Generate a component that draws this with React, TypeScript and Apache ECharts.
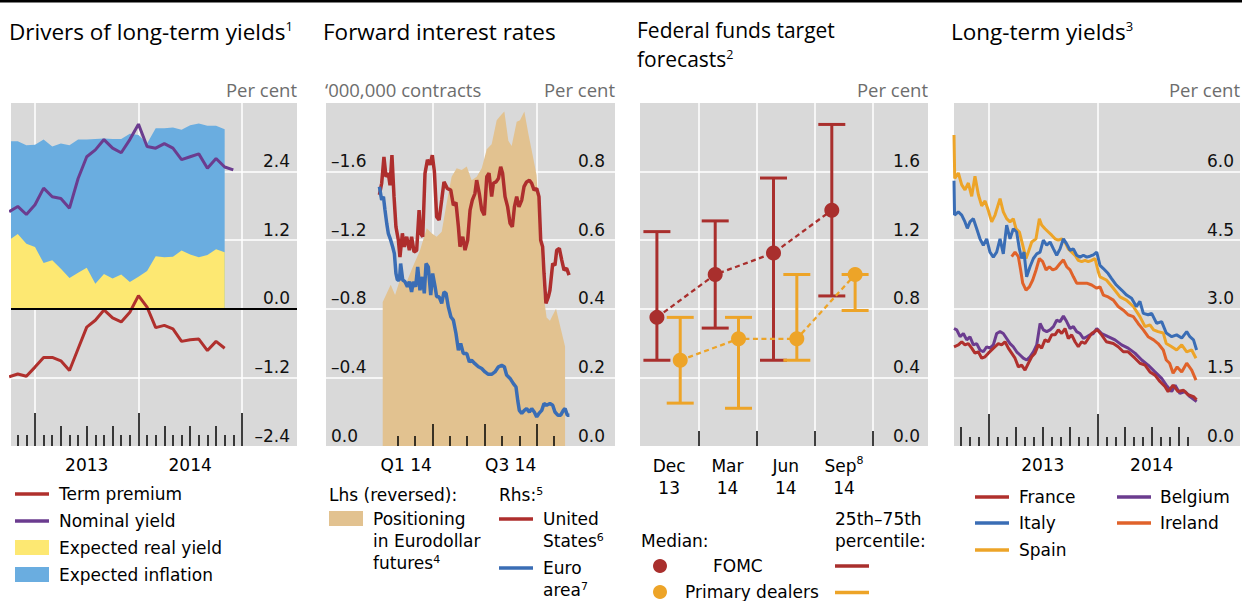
import React, { useEffect, useRef } from 'react';
import * as echarts from 'echarts';

// ---------- Panel 1: Drivers of long-term yields (months, Jan 2013 = 0) ----------
const p1Months = [-3, -2, -1, 0, 1, 2, 3, 4, 5, 6, 7, 8, 9, 10, 11, 12, 13, 14, 15, 16, 17, 18, 19, 20, 21, 22, 23];
const nominalYield = [1.70, 1.79, 1.65, 1.82, 2.11, 1.96, 1.93, 1.76, 2.28, 2.66, 2.78, 2.96, 2.81, 2.73, 2.96, 3.23, 2.84, 2.81, 2.89, 2.81, 2.61, 2.66, 2.71, 2.46, 2.63, 2.48, 2.43];
const termPremium = [-1.19, -1.14, -1.18, -1.02, -0.85, -0.85, -0.91, -1.08, -0.70, -0.32, -0.20, -0.02, -0.16, -0.23, -0.06, 0.23, 0.03, -0.33, -0.29, -0.35, -0.57, -0.54, -0.53, -0.73, -0.57, -0.69];
const expectedReal = [1.20, 1.31, 1.14, 1.08, 0.80, 0.85, 0.70, 0.54, 0.63, 0.72, 0.44, 0.61, 0.53, 0.60, 0.47, 0.56, 0.66, 0.92, 0.90, 0.91, 1.02, 0.95, 0.90, 0.94, 1.04, 0.99];
const expectedInflation = [1.73, 1.62, 1.72, 1.79, 2.16, 1.99, 2.19, 2.32, 2.33, 2.24, 2.53, 2.37, 2.44, 2.37, 2.59, 2.48, 2.23, 2.24, 2.26, 2.26, 2.11, 2.26, 2.34, 2.26, 2.16, 2.15];
const yearLabels = ['2013', '2014'];
const yearLabelPos = [6, 18];

// ---------- Panel 2: Forward interest rates (months, Jan 2014 = 0) ----------
const eurodollarPositioning = [
  [0.15, -0.84], [0.61, -0.94], [0.86, -0.88], [1.14, -0.97], [1.5, -0.95], [1.9, -1.05], [2.29, -1.14], [2.68, -1.27],
  [2.96, -1.24], [3.25, -1.22], [3.54, -1.25], [3.83, -1.42], [4.11, -1.57], [4.40, -1.62], [4.69, -1.61], [4.98, -1.63],
  [5.26, -1.55], [5.55, -1.57], [5.84, -1.62], [6.13, -1.73], [6.41, -1.76], [6.70, -1.90], [6.95, -1.93], [7.14, -1.95],
  [7.37, -1.78], [7.56, -1.75], [7.85, -1.89], [8.04, -1.90], [8.29, -1.95], [8.52, -1.82], [8.80, -1.68], [8.99, -1.58],
  [9.19, -1.25], [9.38, -0.89], [9.57, -0.75], [9.76, -0.73], [10.11, -0.80], [10.44, -0.66], [10.63, -0.58],
];
const usForward = [
  [-0.04, 0.732], [0.09, 0.766], [0.22, 0.843], [0.34, 0.785], [0.47, 0.795], [0.57, 0.76], [0.68, 0.848], [0.80, 0.727],
  [0.91, 0.639], [1.05, 0.60], [1.14, 0.551], [1.28, 0.62], [1.39, 0.581], [1.53, 0.61], [1.68, 0.571], [1.81, 0.61],
  [1.95, 0.566], [2.10, 0.57], [2.24, 0.688], [2.33, 0.62], [2.45, 0.61], [2.58, 0.795], [2.72, 0.834], [2.87, 0.82],
  [3.00, 0.848], [3.12, 0.80], [3.25, 0.668], [3.39, 0.659], [3.54, 0.717], [3.67, 0.77], [3.86, 0.751], [4.06, 0.746],
  [4.21, 0.702], [4.36, 0.71], [4.50, 0.639], [4.59, 0.581], [4.75, 0.61], [4.88, 0.571], [5.03, 0.60], [5.17, 0.688],
  [5.30, 0.717], [5.45, 0.736], [5.55, 0.775], [5.70, 0.736], [5.84, 0.688], [5.99, 0.673], [6.13, 0.785], [6.26, 0.795],
  [6.41, 0.727], [6.51, 0.766], [6.66, 0.770], [6.80, 0.78], [6.93, 0.814], [7.04, 0.795], [7.18, 0.727], [7.33, 0.697],
  [7.47, 0.649], [7.60, 0.639], [7.72, 0.697], [7.85, 0.727], [7.98, 0.697], [8.14, 0.717], [8.27, 0.756], [8.42, 0.770],
  [8.58, 0.775], [8.71, 0.766], [8.85, 0.746], [9.00, 0.751], [9.13, 0.727], [9.23, 0.60], [9.34, 0.581], [9.42, 0.503],
  [9.53, 0.416], [9.67, 0.435], [9.76, 0.454], [9.92, 0.532], [10.05, 0.527], [10.15, 0.571], [10.30, 0.576], [10.44, 0.542],
  [10.57, 0.513], [10.72, 0.518], [10.86, 0.498],
];
const euroForward = [
  [-0.04, 0.756], [0.09, 0.717], [0.19, 0.727], [0.28, 0.688], [0.38, 0.649], [0.47, 0.62], [0.61, 0.60], [0.72, 0.581],
  [0.82, 0.561], [0.91, 0.503], [0.99, 0.484], [1.11, 0.484], [1.18, 0.532], [1.30, 0.484], [1.43, 0.479], [1.57, 0.464],
  [1.68, 0.479], [1.81, 0.449], [1.91, 0.479], [2.04, 0.464], [2.16, 0.522], [2.29, 0.454], [2.43, 0.493], [2.54, 0.445],
  [2.64, 0.532], [2.77, 0.522], [2.91, 0.44], [3.02, 0.503], [3.16, 0.464], [3.25, 0.435], [3.39, 0.435], [3.54, 0.416],
  [3.67, 0.449], [3.79, 0.445], [3.92, 0.406], [4.07, 0.376], [4.21, 0.367], [4.36, 0.328], [4.50, 0.279], [4.63, 0.299],
  [4.78, 0.27], [4.98, 0.27], [5.13, 0.245], [5.26, 0.25], [5.45, 0.24], [5.65, 0.231], [5.84, 0.226], [6.03, 0.216],
  [6.22, 0.209], [6.41, 0.209], [6.60, 0.216], [6.80, 0.231], [6.99, 0.235], [7.14, 0.231], [7.27, 0.207], [7.47, 0.197],
  [7.66, 0.182], [7.81, 0.172], [7.91, 0.133], [8.00, 0.104], [8.14, 0.095], [8.29, 0.104], [8.42, 0.109], [8.58, 0.099],
  [8.71, 0.109], [8.86, 0.099], [9.00, 0.085], [9.13, 0.095], [9.29, 0.104], [9.42, 0.124], [9.57, 0.119], [9.76, 0.124],
  [9.92, 0.119], [10.05, 0.099], [10.21, 0.09], [10.38, 0.09], [10.53, 0.104], [10.63, 0.109], [10.76, 0.09], [10.88, 0.09],
];
const quarterLabels = ['Q1 14', 'Q3 14'];
const quarterLabelPos = [1.5, 7.5];

// ---------- Panel 3: Federal funds target forecasts ----------
const fedDates = ['Dec|13', 'Mar|14', 'Jun|14', 'Sep|14'];
const fomcMedian = [0.75, 1.0, 1.125, 1.375];
const fomcLow = [0.5, 0.6875, 0.5, 0.875];
const fomcHigh = [1.25, 1.3125, 1.5625, 1.875];
const dealersMedian = [0.5, 0.625, 0.625, 1.0];
const dealersLow = [0.25, 0.22, 0.5, 0.79];
const dealersHigh = [0.75, 0.75, 1.0, 1.0];

// ---------- Panel 4: Long-term yields (months, Jan 2013 = 0) ----------
const france = [
  [-3.78, 2.17], [-3.30, 2.21], [-2.93, 2.28], [-2.57, 2.21], [-2.20, 2.24], [-1.83, 2.14], [-1.47, 2.03], [-1.10, 2.06],
  [-0.73, 1.92], [-0.36, 1.95], [0.0, 2.03], [0.37, 2.10], [0.74, 2.17], [1.10, 2.24], [1.47, 2.21], [1.84, 2.28],
  [2.20, 2.14], [2.57, 2.03], [2.94, 1.92], [3.31, 1.73], [3.67, 1.77], [4.04, 1.66], [4.41, 1.81], [4.78, 1.95],
  [5.14, 2.03], [5.51, 2.21], [5.87, 2.14], [6.24, 2.32], [6.61, 2.28], [6.98, 2.43], [7.35, 2.43], [7.71, 2.54],
  [8.08, 2.46], [8.45, 2.57], [8.81, 2.35], [9.18, 2.43], [9.55, 2.28], [9.91, 2.17], [10.28, 2.28], [10.65, 2.24],
  [11.01, 2.35], [11.38, 2.46], [12.0, 2.54], [12.48, 2.43], [13.0, 2.28], [13.77, 2.24], [14.3, 2.17], [14.87, 2.06],
  [15.4, 2.06], [16.15, 1.92], [16.7, 1.81], [17.26, 1.77], [17.8, 1.62], [18.35, 1.55], [18.9, 1.41], [19.45, 1.30],
  [19.8, 1.19], [20.35, 1.33], [20.9, 1.19], [21.5, 1.22], [22.0, 1.12], [22.6, 1.08], [22.94, 1.01],
];
const italy = [
  [-3.78, 5.80], [-3.72, 5.05], [-3.30, 5.12], [-2.93, 5.05], [-2.57, 4.90], [-2.31, 4.76], [-2.02, 4.90], [-1.65, 4.97],
  [-1.28, 4.75], [-0.92, 4.53], [-0.55, 4.39], [-0.18, 4.53], [0.18, 4.24], [0.55, 4.13], [0.92, 4.24], [1.29, 4.53],
  [1.65, 4.20], [2.02, 4.83], [2.39, 4.53], [2.75, 4.75], [3.12, 4.68], [3.42, 4.31], [3.67, 4.10], [3.93, 4.24],
  [4.22, 3.70], [4.59, 3.92], [4.96, 4.10], [5.33, 4.20], [5.70, 4.24], [6.06, 4.50], [6.43, 4.39], [6.80, 4.46],
  [7.17, 4.31], [7.53, 4.17], [7.90, 4.31], [8.27, 4.53], [8.63, 4.42], [9.00, 4.28], [9.37, 4.31], [9.73, 4.17],
  [10.10, 4.13], [10.47, 4.17], [10.84, 4.13], [11.20, 4.15], [11.57, 4.18], [11.94, 4.24], [12.3, 3.95], [12.67, 3.88],
  [13.2, 3.77], [13.58, 3.66], [14.1, 3.52], [14.68, 3.41], [15.23, 3.30], [15.78, 3.23], [16.3, 3.05], [16.7, 3.16],
  [17.07, 2.90], [17.6, 2.87], [17.99, 2.90], [18.54, 2.68], [19.09, 2.72], [19.6, 2.47], [20.2, 2.39], [20.74, 2.43],
  [21.3, 2.36], [21.85, 2.50], [22.2, 2.39], [22.6, 2.32], [22.94, 2.10],
];
const spain = [
  [-3.78, 6.80], [-3.70, 5.85], [-3.30, 5.97], [-2.93, 5.71], [-2.57, 5.60], [-2.20, 5.75], [-1.83, 5.46], [-1.47, 5.90],
  [-1.10, 5.50], [-0.73, 5.25], [-0.36, 5.36], [0.0, 5.15], [0.37, 4.90], [0.74, 5.05], [1.29, 5.41], [1.65, 5.12],
  [2.02, 4.97], [2.39, 4.90], [2.75, 4.97], [3.05, 4.75], [3.42, 4.68], [3.79, 4.39], [4.15, 4.10], [4.41, 4.24],
  [4.78, 4.46], [5.25, 4.53], [5.62, 4.97], [5.87, 4.83], [6.24, 4.75], [6.61, 4.68], [6.98, 4.61], [7.35, 4.53],
  [7.71, 4.50], [8.08, 4.53], [8.45, 4.46], [8.81, 4.31], [9.18, 4.24], [9.55, 4.17], [9.91, 4.06], [10.28, 4.03],
  [10.65, 4.06], [11.01, 4.03], [11.38, 4.06], [11.75, 4.10], [12.11, 3.81], [12.3, 3.70], [13.0, 3.63], [13.77, 3.45],
  [14.5, 3.26], [15.2, 3.19], [15.97, 3.05], [16.7, 2.83], [17.26, 2.61], [17.8, 2.65], [18.2, 2.54], [18.7, 2.50],
  [19.27, 2.47], [19.6, 2.24], [20.2, 2.17], [20.74, 2.10], [21.3, 2.21], [21.85, 2.06], [22.4, 2.10], [22.87, 1.92],
];
const belgium = [
  [-3.78, 2.57], [-3.48, 2.54], [-3.11, 2.39], [-2.75, 2.46], [-2.38, 2.32], [-2.02, 2.39], [-1.65, 2.21], [-1.28, 2.24],
  [-0.92, 2.10], [-0.55, 2.06], [-0.18, 2.17], [0.18, 2.14], [0.55, 2.21], [0.92, 2.46], [1.29, 2.50], [1.65, 2.46],
  [2.02, 2.35], [2.39, 2.24], [2.75, 2.17], [3.12, 2.06], [3.49, 1.99], [3.85, 1.92], [4.22, 1.88], [4.59, 1.95],
  [4.96, 2.06], [5.33, 2.21], [5.70, 2.68], [6.06, 2.54], [6.43, 2.50], [6.80, 2.54], [7.17, 2.61], [7.53, 2.75],
  [7.90, 2.72], [8.27, 2.84], [8.63, 2.72], [9.00, 2.57], [9.37, 2.61], [9.73, 2.50], [10.10, 2.46], [10.47, 2.35],
  [10.84, 2.39], [11.20, 2.43], [11.57, 2.46], [11.94, 2.57], [12.48, 2.46], [13.2, 2.39], [13.95, 2.32], [14.68, 2.21],
  [15.4, 2.14], [16.15, 2.03], [16.9, 1.88], [17.6, 1.77], [18.35, 1.62], [19.09, 1.48], [19.6, 1.33], [20.2, 1.19],
  [20.57, 1.33], [21.1, 1.15], [21.67, 1.19], [22.2, 1.08], [22.94, 0.97],
];
const ireland = [
  [2.57, 4.14], [2.94, 4.24], [3.31, 4.14], [3.56, 3.85], [3.79, 3.56], [4.15, 3.41], [4.52, 3.48], [4.89, 3.63],
  [5.26, 3.85], [5.62, 4.10], [5.99, 4.03], [6.36, 3.85], [6.72, 3.92], [7.09, 3.85], [7.46, 3.88], [7.90, 3.99],
  [8.27, 4.07], [8.63, 3.92], [9.00, 3.85], [9.37, 3.70], [9.73, 3.56], [10.28, 3.56], [10.84, 3.56], [11.38, 3.52],
  [11.94, 3.45], [12.3, 3.48], [12.67, 3.30], [13.2, 3.26], [13.77, 3.19], [14.3, 3.05], [14.87, 2.97], [15.4, 2.87],
  [15.97, 2.83], [16.5, 2.68], [17.07, 2.54], [17.6, 2.39], [18.2, 2.32], [18.7, 2.24], [19.27, 2.10], [19.6, 1.88],
  [19.97, 1.81], [20.35, 1.59], [20.8, 1.73], [21.3, 1.62], [21.85, 1.81], [22.4, 1.66], [22.87, 1.44],
];

// ---------- styling ----------
const FONT = 'DejaVu Sans';
const TFONT = 'Open Sans';
const BG = '#D9D9D9';
const RED = '#B0302D';
const PURPLE = '#6B3C8F';
const YELLOW = '#FDE872';
const LBLUE = '#6AADE0';
const TAN = '#E2C290';
const BLUE = '#3A6DB5';
const ORANGE = '#EDA428';
const IRL = '#E0622A';
const FED_RED = '#A92F2D';

const fmtNum = (v: number) => (v < -1e-9 ? '\u2013' : '') + Math.abs(v).toFixed(1);

function labelFor(vals: number[], labels: string[]) {
  return (v: number) => {
    const i = vals.findIndex((p) => Math.abs(p - v) < 1e-6);
    return i >= 0 ? labels[i] : '';
  };
}

function baseX(gridIndex: number, min: number, max: number, splitVals: number[], labelVals: number[], fmt: any) {
  return {
    type: 'value', gridIndex, min, max, position: 'bottom', z: 0,
    axisLine: { show: false },
    axisTick: { show: false, customValues: splitVals },
    splitLine: { show: true, lineStyle: { color: '#fff', width: 1.5 } },
    axisLabel: {
      show: true, customValues: labelVals, margin: 10, color: '#000', fontFamily: FONT, fontSize: 17,
      formatter: fmt,
    },
  };
}
function tickX(gridIndex: number, min: number, max: number, vals: number[], length: number) {
  return {
    type: 'value', gridIndex, min, max, position: 'bottom', z: 5,
    axisLine: { show: false }, splitLine: { show: false }, axisLabel: { show: false },
    axisTick: { show: true, inside: true, length, customValues: vals, lineStyle: { color: '#000', width: 1.5 } },
  };
}
function valY(gridIndex: number, position: string, min: number, max: number, interval: number, margin: number) {
  return {
    type: 'value', gridIndex, position, min, max, interval,
    axisLine: { show: false }, axisTick: { show: false },
    splitLine: { show: true, showMinLine: false, showMaxLine: false, lineStyle: { color: '#fff', width: 1.5 } },
    axisLabel: {
      inside: true, margin, verticalAlign: 'bottom', showMaxLabel: false, color: '#111',
      fontFamily: FONT, fontSize: 17, formatter: fmtNum, padding: [0, 0, 2, 0],
    },
  };
}

const p1Minor = [-2, -1, 1, 2, 4, 5, 7, 8, 10, 11, 13, 14, 16, 17, 19, 20, 22, 23];
const p1Quarter = [3, 6, 9, 15, 18, 21];
const p1Year = [0, 12, 24];
const p2Minor = [1, 2, 4, 5, 7, 8, 10];
const p2Quarter = [3, 6, 9];
const p4Minor = [-2, -1, 1, 2, 4, 5, 7, 8, 10, 11, 13, 14, 16, 17, 19, 20, 22];
const p4Quarter = [-3, 3, 6, 9, 15, 18, 21];
const p4Year = [0, 12];

function buildOption() {
  const P1MIN = -2.784, P1MAX = 30.39;
  const P2MIN = -3.11, P2MAX = 13.5;
  const P3MIN = 0, P3MAX = 4.94;
  const P4MIN = -3.78, P4MAX = 27.72;

  const xAxis: any[] = [
    baseX(0, P1MIN, P1MAX, p1Year, yearLabelPos, labelFor(yearLabelPos, yearLabels)),
    tickX(0, P1MIN, P1MAX, p1Minor, 11),
    tickX(0, P1MIN, P1MAX, p1Quarter, 20),
    tickX(0, P1MIN, P1MAX, p1Year, 33),
    baseX(1, P2MIN, P2MAX, p2Quarter, quarterLabelPos, labelFor(quarterLabelPos, quarterLabels)),
    tickX(1, P2MIN, P2MAX, p2Minor, 10),
    tickX(1, P2MIN, P2MAX, p2Quarter, 22),
    {
      type: 'value', gridIndex: 2, min: P3MIN, max: P3MAX, position: 'bottom', z: 0,
      axisLine: { show: false },
      axisTick: { show: true, inside: true, length: 15, customValues: [1, 2, 3, 4], lineStyle: { color: '#000', width: 1.5 } },
      splitLine: { show: true, lineStyle: { color: '#fff', width: 1.5 } },
      axisLabel: {
        show: true, customValues: [0.5, 1.5, 2.5, 3.5], margin: 9, color: '#000', lineHeight: 22,
        formatter: (v: number) => {
          const d = fedDates[Math.floor(v)] || '';
          const [a, b] = d.split('|');
          return a === 'Sep' ? `{a|${a}}{s|8}\n{a|${b}}` : `{a|${a}}\n{a|${b}}`;
        },
        rich: {
          a: { fontFamily: FONT, fontSize: 17, lineHeight: 22, color: '#000' },
          s: { fontFamily: FONT, fontSize: 11, lineHeight: 11, verticalAlign: 'top', color: '#000' },
        },
      },
    },
    baseX(3, P4MIN, P4MAX, p4Year, yearLabelPos, labelFor(yearLabelPos, yearLabels)),
    tickX(3, P4MIN, P4MAX, p4Minor, 9),
    tickX(3, P4MIN, P4MAX, p4Quarter, 19),
    tickX(3, P4MIN, P4MAX, p4Year, 32),
  ];

  const yAxis: any[] = [
    valY(0, 'right', -2.4, 3.6, 1.2, 7),
    {
      type: 'value', gridIndex: 1, position: 'left', min: -2.0, max: 0, interval: 0.4, inverse: true,
      axisLine: { show: false }, axisTick: { show: false }, splitLine: { show: false },
      axisLabel: {
        inside: true, margin: 5, verticalAlign: 'bottom', showMinLabel: false, color: '#111',
        fontFamily: FONT, fontSize: 17, formatter: fmtNum, padding: [0, 0, 2, 0],
      },
    },
    valY(1, 'right', 0, 1.0, 0.2, 10),
    valY(2, 'right', 0, 2.0, 0.4, 8),
    valY(3, 'right', 0, 7.5, 1.5, 6),
  ];

  const line = (name: string, x: number, y: number, data: any[], color: string, width = 3) => ({
    name, type: 'line', xAxisIndex: x, yAxisIndex: y, data, showSymbol: false, symbol: 'none',
    lineStyle: { color, width }, itemStyle: { color }, z: 3,
  });

  const errorBars = (name: string, xs: number[], lo: number[], hi: number[], color: string) => ({
    name, type: 'custom', xAxisIndex: 7, yAxisIndex: 3, z: 3,
    encode: { x: 0, y: [1, 2] },
    data: xs.map((x, i) => [x, lo[i], hi[i]]),
    renderItem: (params: any, api: any) => {
      const x = api.value(0);
      const pLo = api.coord([x, api.value(1)]);
      const pHi = api.coord([x, api.value(2)]);
      const half = 13.5;
      const st = { stroke: color, lineWidth: 3 };
      return {
        type: 'group',
        children: [
          { type: 'line', shape: { x1: pLo[0], y1: pLo[1], x2: pHi[0], y2: pHi[1] }, style: st },
          { type: 'line', shape: { x1: pLo[0] - half, y1: pLo[1], x2: pLo[0] + half, y2: pLo[1] }, style: st },
          { type: 'line', shape: { x1: pHi[0] - half, y1: pHi[1], x2: pHi[0] + half, y2: pHi[1] }, style: st },
        ],
      };
    },
  });

  const fomcX = fomcMedian.map((_, i) => i + 0.29);
  const dealersX = dealersMedian.map((_, i) => i + 0.69);
  // stacked area: top of the expected-inflation band sits on the expected real yield
  const inflationTop = expectedInflation.map((v, i) => [p1Months[i], expectedReal[i] + v]);

  const series: any[] = [
    // Panel 1
    {
      name: 'Expected inflation', type: 'line', xAxisIndex: 0, yAxisIndex: 0, symbol: 'none',
      data: inflationTop, lineStyle: { width: 0 }, areaStyle: { color: LBLUE, opacity: 1 }, z: 2,
    },
    {
      name: 'Expected real yield', type: 'line', xAxisIndex: 0, yAxisIndex: 0, symbol: 'none',
      data: expectedReal.map((v, i) => [p1Months[i], v]),
      lineStyle: { width: 0 }, areaStyle: { color: YELLOW, opacity: 1 }, z: 2,
      markLine: {
        silent: true, symbol: ['none', 'none'], label: { show: false },
        lineStyle: { color: '#000', width: 2, type: 'solid' }, data: [{ yAxis: 0 }],
      },
    },
    line('Term premium', 0, 0, termPremium.map((v, i) => [p1Months[i], v]), RED, 3),
    line('Nominal yield', 0, 0, nominalYield.map((v, i) => [p1Months[i], v]), PURPLE, 3),
    // Panel 2
    {
      name: 'Positioning in Eurodollar futures', type: 'line', xAxisIndex: 4, yAxisIndex: 1, symbol: 'none',
      data: eurodollarPositioning, lineStyle: { width: 0 }, areaStyle: { color: TAN, opacity: 1 }, z: 2,
    },
    line('United States', 4, 2, usForward, '#AE2E2D', 3.5),
    line('Euro area', 4, 2, euroForward, BLUE, 3.5),
    // Panel 3
    errorBars('FOMC range', fomcX, fomcLow, fomcHigh, FED_RED),
    {
      name: 'FOMC', type: 'line', xAxisIndex: 7, yAxisIndex: 3, z: 4,
      data: fomcMedian.map((v, i) => [fomcX[i], v]),
      symbol: 'circle', symbolSize: 15, showSymbol: true,
      lineStyle: { color: FED_RED, width: 2.3, type: [5, 3.5] }, itemStyle: { color: FED_RED },
    },
    errorBars('Primary dealers range', dealersX, dealersLow, dealersHigh, ORANGE),
    {
      name: 'Primary dealers', type: 'line', xAxisIndex: 7, yAxisIndex: 3, z: 4,
      data: dealersMedian.map((v, i) => [dealersX[i], v]),
      symbol: 'circle', symbolSize: 15, showSymbol: true,
      lineStyle: { color: ORANGE, width: 2.3, type: [5, 3.5] }, itemStyle: { color: ORANGE },
    },
    // Panel 4
    line('Belgium', 8, 4, belgium, PURPLE, 3),
    line('France', 8, 4, france, RED, 3),
    line('Spain', 8, 4, spain, ORANGE, 3),
    line('Ireland', 8, 4, ireland, IRL, 3),
    line('Italy', 8, 4, italy, BLUE, 3),
  ];

  const txt = (x: number, y: number, text: string, o: any = {}) => ({
    type: 'text', x, y, silent: true, z: 10,
    style: {
      text, fill: o.fill || '#000', fontSize: o.size || 17, fontFamily: o.font || FONT,
      align: o.align || 'left', verticalAlign: o.va || 'middle', rich: o.rich,
    },
  });
  const titleRich = {
    t: { fontFamily: TFONT, fontSize: 22.5, lineHeight: 24, fill: '#000' },
    s: { fontFamily: TFONT, fontSize: 13, lineHeight: 13, verticalAlign: 'top', fill: '#000' },
  };
  const fedTitleRich = {
    t: { fontFamily: TFONT, fontSize: 21, lineHeight: 22, fill: '#000' },
    s: { fontFamily: TFONT, fontSize: 12.5, lineHeight: 12.5, verticalAlign: 'top', fill: '#000' },
  };
  const legRich = {
    t: { fontFamily: FONT, fontSize: 17, lineHeight: 19, fill: '#000' },
    s: { fontFamily: FONT, fontSize: 11, lineHeight: 11, verticalAlign: 'top', fill: '#000' },
  };
  const lseg = (x1: number, x2: number, y: number, color: string) => ({
    type: 'line', silent: true, z: 10, shape: { x1, y1: y, x2, y2: y }, style: { stroke: color, lineWidth: 3.5 },
  });
  const box = (x: number, y: number, w: number, h: number, color: string) => ({
    type: 'rect', silent: true, z: 10, shape: { x, y, width: w, height: h }, style: { fill: color },
  });
  const dot = (cx: number, cy: number, color: string) => ({
    type: 'circle', silent: true, z: 10, shape: { cx, cy, r: 7 }, style: { fill: color },
  });
  const GRAY = '#6d6d6d';

  const graphic: any[] = [
    box(0, 0, 1242, 2.5, '#000'),
    // titles
    txt(9, 31, '{t|Drivers of long-term yields}{s|1}', { rich: titleRich }),
    txt(323, 31, '{t|Forward interest rates}', { rich: titleRich }),
    txt(637, 29.5, '{t|Federal funds target}', { rich: fedTitleRich }),
    txt(637, 58.5, '{t|forecasts}{s|2}', { rich: fedTitleRich }),
    txt(951, 31, '{t|Long-term yields}{s|3}', { rich: titleRich }),
    // units
    txt(297, 89.5, 'Per cent', { font: TFONT, size: 18.5, fill: GRAY, align: 'right' }),
    txt(325, 89.5, '\u2018000,000 contracts', { font: TFONT, size: 18.5, fill: GRAY }),
    txt(615, 89.5, 'Per cent', { font: TFONT, size: 18.5, fill: GRAY, align: 'right' }),
    txt(928, 89.5, 'Per cent', { font: TFONT, size: 18.5, fill: GRAY, align: 'right' }),
    txt(1240, 89.5, 'Per cent', { font: TFONT, size: 18.5, fill: GRAY, align: 'right' }),
    // panel 1 legend
    lseg(15, 49, 494, RED), txt(59, 494, 'Term premium'),
    lseg(15, 49, 521, PURPLE), txt(59, 521, 'Nominal yield'),
    box(15, 540, 34, 15, YELLOW), txt(59, 547.5, 'Expected real yield'),
    box(15, 567, 34, 15, LBLUE), txt(59, 574.5, 'Expected inflation'),
    // panel 2 legend
    txt(329, 495, 'Lhs (reversed):'),
    txt(499, 495, '{t|Rhs:}{s|5}', { rich: legRich }),
    box(329, 511, 34, 15, TAN),
    txt(373, 519, 'Positioning'),
    txt(373, 541, 'in Eurodollar'),
    txt(373, 563, '{t|futures}{s|4}', { rich: legRich }),
    lseg(499, 533, 519, '#AE2E2D'),
    txt(543, 519, 'United'),
    txt(543, 541, '{t|States}{s|6}', { rich: legRich }),
    lseg(499, 533, 568, BLUE),
    txt(543, 568, 'Euro'),
    txt(543, 590, '{t|area}{s|7}', { rich: legRich }),
    // panel 3 legend
    txt(835, 519, '25th\u201375th'),
    txt(835, 541, 'percentile:'),
    txt(641, 541, 'Median:'),
    dot(660, 566, FED_RED), txt(713, 566, 'FOMC'),
    dot(660, 592, ORANGE), txt(685, 592, 'Primary dealers'),
    lseg(835, 869, 566, FED_RED),
    lseg(835, 869, 592.5, ORANGE),
    // panel 4 legend
    lseg(975, 1009, 497, RED), txt(1019, 497, 'France'),
    lseg(975, 1009, 523, BLUE), txt(1019, 523, 'Italy'),
    lseg(975, 1009, 550, ORANGE), txt(1019, 550, 'Spain'),
    lseg(1117, 1151, 497, PURPLE), txt(1160, 497, 'Belgium'),
    lseg(1117, 1151, 523, IRL), txt(1160, 523, 'Ireland'),
  ];

  const gridBase = { show: true, backgroundColor: BG, borderWidth: 0, top: 103, height: 343 };
  return {
    animation: false,
    backgroundColor: '#fff',
    textStyle: { fontFamily: FONT },
    grid: [
      { ...gridBase, left: 11, width: 286 },
      { ...gridBase, left: 326, width: 289 },
      { ...gridBase, left: 640, width: 288 },
      { ...gridBase, left: 954, width: 286 },
    ],
    xAxis,
    yAxis,
    series,
    graphic: { elements: graphic },
  };
}

export default function App() {
  const ref = useRef<HTMLDivElement>(null);
  useEffect(() => {
    if (!ref.current) return;
    const chart = echarts.init(ref.current, undefined, { renderer: 'svg' });
    chart.setOption(buildOption() as any);
    return () => chart.dispose();
  }, []);
  return <div ref={ref} style={{ position: 'absolute', left: 0, top: 0, width: 1242, height: 601, background: '#fff' }} />;
}
